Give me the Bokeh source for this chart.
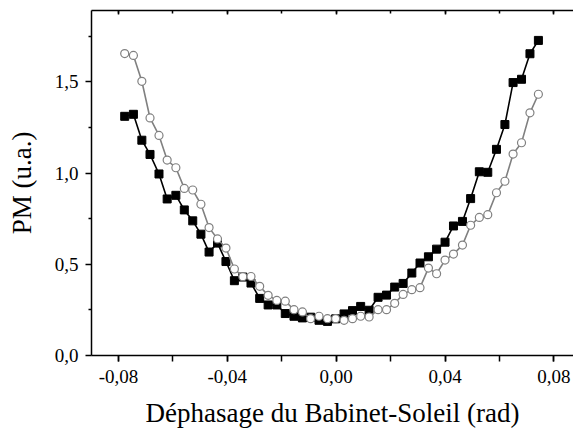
from bokeh.plotting import figure
from bokeh.models import (LinearAxis, FixedTicker, CustomJSTickFormatter, Range1d)
from bokeh.embed import file_html
from bokeh.resources import INLINE

# ---- data ----
phase = [-0.0777, -0.0745, -0.0714, -0.0684, -0.0651, -0.0621, -0.0589, -0.0558, -0.0527, -0.0497,
         -0.0467, -0.0436, -0.0405, -0.0374, -0.0343, -0.0313, -0.0281, -0.0250, -0.0218, -0.0187,
         -0.0155, -0.0124, -0.0094, -0.0063, -0.0032, -0.0002, 0.0029, 0.0060, 0.0090, 0.0121,
         0.0154, 0.0185, 0.0215, 0.0246, 0.0278, 0.0308, 0.0339, 0.0369, 0.0400, 0.0431,
         0.0464, 0.0494, 0.0526, 0.0557, 0.0589, 0.0620, 0.0650, 0.0681, 0.0712, 0.0743]

pm_squares = [1.311, 1.322, 1.180, 1.102, 0.995, 0.858, 0.878, 0.798, 0.738, 0.665,
              0.567, 0.616, 0.515, 0.410, 0.430, 0.397, 0.313, 0.277, 0.277, 0.230,
              0.215, 0.206, 0.210, 0.193, 0.187, 0.201, 0.228, 0.246, 0.269, 0.248,
              0.319, 0.331, 0.375, 0.395, 0.452, 0.507, 0.541, 0.583, 0.621, 0.710,
              0.735, 0.860, 1.007, 1.004, 1.130, 1.266, 1.496, 1.514, 1.654, 1.727]

pm_circles = [1.655, 1.645, 1.503, 1.302, 1.206, 1.071, 1.029, 0.916, 0.907, 0.829,
              0.701, 0.639, 0.589, 0.474, 0.432, 0.433, 0.379, 0.330, 0.302, 0.298,
              0.251, 0.239, 0.202, 0.215, 0.202, 0.202, 0.193, 0.202, 0.215, 0.211,
              0.251, 0.251, 0.286, 0.335, 0.361, 0.372, 0.479, 0.448, 0.523, 0.556,
              0.605, 0.714, 0.757, 0.772, 0.892, 0.955, 1.104, 1.166, 1.330, 1.432]

x_major = [-0.08, -0.04, 0.0, 0.04, 0.08]
x_minor = [-0.08, -0.06, -0.04, -0.02, 0.0, 0.02, 0.04, 0.06, 0.08]
y_major = [0.0, 0.5, 1.0, 1.5]
y_minor = [0.25, 0.75, 1.25, 1.75]

x_title = "Déphasage du Babinet-Soleil (rad)"
y_title = "PM (u.a.)"

FONT = "Liberation Serif"

p = figure(width=573, height=430, output_backend="svg", toolbar_location=None,
           x_range=Range1d(-0.0899, 0.0872), y_range=Range1d(0, 1.891),
           min_border_left=91, min_border_right=0, min_border_top=10, min_border_bottom=74,
           x_axis_location=None, y_axis_location=None)
p.outline_line_color = None
p.grid.visible = False
p.background_fill_color = "white"
p.border_fill_color = "white"

xfmt = CustomJSTickFormatter(code="var t = Math.abs(tick) < 1e-9 ? 0 : tick; return t.toFixed(2).replace('.', ',');")
yfmt = CustomJSTickFormatter(code="var t = Math.abs(tick) < 1e-9 ? 0 : tick; return t.toFixed(1).replace('.', ',');")
nofmt = CustomJSTickFormatter(code="return '';")


def style(ax):
    ax.axis_line_color = "black"
    ax.axis_line_width = 1.5
    ax.major_tick_line_color = "black"
    ax.major_tick_line_width = 1.5
    ax.minor_tick_line_color = "black"
    ax.minor_tick_line_width = 1.5
    ax.major_label_text_font = FONT
    ax.major_label_text_color = "black"
    ax.axis_label_text_font = FONT
    ax.axis_label_text_font_style = "normal"
    ax.axis_label_text_color = "black"


xb = LinearAxis(ticker=FixedTicker(ticks=x_major, minor_ticks=x_minor), formatter=xfmt,
                axis_label=x_title)
style(xb)
xb.major_tick_out = 6
xb.major_tick_in = 0
xb.minor_tick_out = 6
xb.minor_tick_in = 0
xb.major_label_text_font_size = "19px"
xb.major_label_standoff = 8
xb.axis_label_text_font_size = "27px"
xb.axis_label_standoff = 12
p.add_layout(xb, "below")

yl = LinearAxis(ticker=FixedTicker(ticks=y_major, minor_ticks=y_minor), formatter=yfmt,
                axis_label=y_title)
style(yl)
yl.major_tick_out = 6
yl.major_tick_in = 0
yl.minor_tick_out = 3
yl.minor_tick_in = 0
yl.major_label_text_font_size = "19px"
yl.major_label_standoff = 7
yl.axis_label_text_font_size = "27px"
yl.axis_label_standoff = 15
p.add_layout(yl, "left")

xt = LinearAxis(ticker=FixedTicker(ticks=x_major, minor_ticks=x_minor), formatter=nofmt)
style(xt)
xt.major_tick_out = 0
xt.major_tick_in = 4
xt.minor_tick_out = 0
xt.minor_tick_in = 3
xt.major_label_standoff = 0
p.add_layout(xt, "above")

# series 1: filled black squares
p.line(phase, pm_squares, line_color="black", line_width=1.6)
p.scatter(phase, pm_squares, marker="square", size=8, fill_color="black", line_color="black")

# series 2: open gray circles
p.line(phase, pm_circles, line_color="#808080", line_width=1.6)
p.scatter(phase, pm_circles, marker="circle", size=8, fill_color="white", line_color="#808080",
          line_width=1.2)

open("out.html", "w").write(file_html(p, INLINE))
